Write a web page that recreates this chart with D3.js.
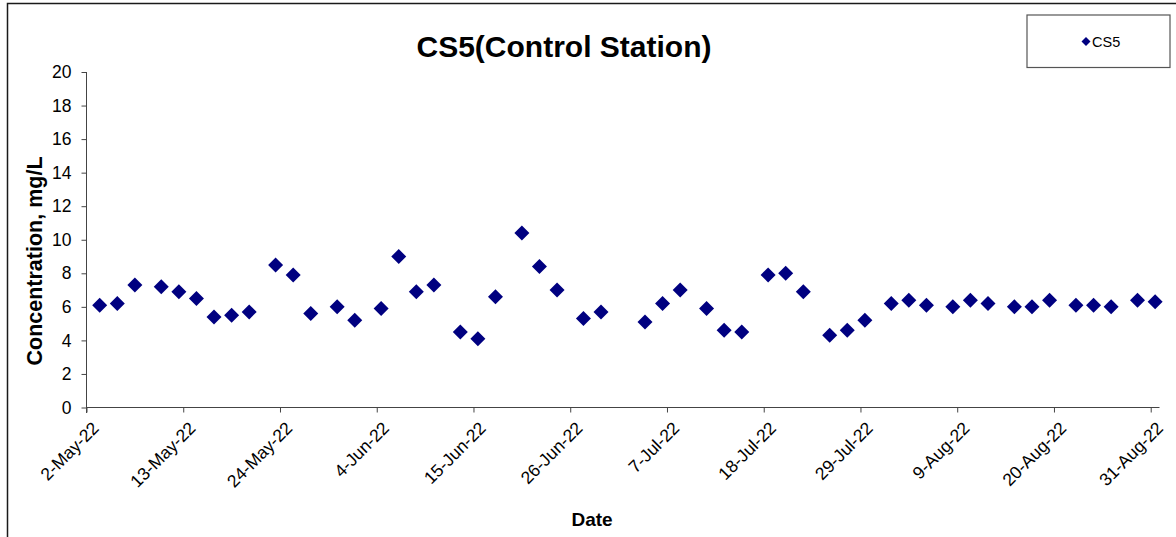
<!DOCTYPE html>
<html>
<head>
<meta charset="utf-8">
<script src="https://cdn.jsdelivr.net/npm/d3@7"></script>
<style>
  html, body { margin: 0; padding: 0; background: #fff; }
  svg { display: block; font-family: "Liberation Sans", Arial, sans-serif; }
</style>
</head>
<body>
<svg id="chart" width="1176" height="537"></svg>
<script>
const title = "CS5(Control Station)";
const seriesName = "CS5";
const xTitle = "Date";
const yTitle = "Concentration, mg/L";

const dates = [
  "2022-05-03","2022-05-05","2022-05-07","2022-05-10","2022-05-12","2022-05-14","2022-05-16","2022-05-18","2022-05-20",
  "2022-05-23","2022-05-25","2022-05-27","2022-05-30","2022-06-01","2022-06-04","2022-06-06","2022-06-08","2022-06-10",
  "2022-06-13","2022-06-15","2022-06-17","2022-06-20","2022-06-22","2022-06-24","2022-06-27","2022-06-29",
  "2022-07-04","2022-07-06","2022-07-08","2022-07-11","2022-07-13","2022-07-15","2022-07-18","2022-07-20","2022-07-22",
  "2022-07-25","2022-07-27","2022-07-29","2022-08-01","2022-08-03","2022-08-05","2022-08-08","2022-08-10","2022-08-12",
  "2022-08-15","2022-08-17","2022-08-19","2022-08-22","2022-08-24","2022-08-26","2022-08-29","2022-08-31"
];
const values = [
  6.1, 6.2, 7.3, 7.2, 6.9, 6.5, 5.4, 5.5, 5.7,
  8.5, 7.9, 5.6, 6.0, 5.2, 5.9, 9.0, 6.9, 7.3,
  4.5, 4.1, 6.6, 10.4, 8.4, 7.0, 5.3, 5.7,
  5.1, 6.2, 7.0, 5.9, 4.6, 4.5, 7.9, 8.0, 6.9,
  4.3, 4.6, 5.2, 6.2, 6.4, 6.1, 6.0, 6.4, 6.2,
  6.0, 6.0, 6.4, 6.1, 6.1, 6.0, 6.4, 6.3
];
const xTicks = ["2022-05-02","2022-05-13","2022-05-24","2022-06-04","2022-06-15","2022-06-26",
                "2022-07-07","2022-07-18","2022-07-29","2022-08-09","2022-08-20","2022-08-31"];
const xDomain = ["2022-05-02","2022-09-01"];
const yTicks = [0, 2, 4, 6, 8, 10, 12, 14, 16, 18, 20];

const parse = d3.utcParse("%Y-%m-%d");
const fmt = d3.utcFormat("%-d-%b-%y");
const data = dates.map((d, i) => ({ date: d3.utcHour.offset(parse(d), 12), value: values[i] }));

const svg = d3.select("#chart");

// outer chart border
svg.append("rect").attr("x", 7.5).attr("y", 3.5).attr("width", 1180).attr("height", 560)
  .attr("fill", "none").attr("stroke", "#1a1a1a").attr("stroke-width", 1.5);

const x = d3.scaleUtc().domain(xDomain.map(parse)).range([86.5, 1159.5]);
const y = d3.scaleLinear().domain([0, 20]).range([407.5, 72]);

// y axis
const yAxis = svg.append("g").attr("transform", "translate(86.5,0)")
  .call(d3.axisLeft(y).tickValues(yTicks).tickSize(5).tickPadding(10).tickFormat(d3.format("d")));
yAxis.selectAll("text").attr("font-size", "17.5px").attr("fill", "#000")
  .attr("font-family", "Liberation Sans, Arial, sans-serif");
yAxis.selectAll("line").attr("stroke", "#444");
yAxis.select(".domain").attr("stroke", "#444").attr("d", "M0,72V413");

// x axis
const xAxis = svg.append("g").attr("transform", "translate(0,407.5)")
  .call(d3.axisBottom(x).tickValues(xTicks.map(parse)).tickSize(5).tickFormat(fmt));
xAxis.select(".domain").attr("stroke", "#444").attr("d", "M86.5,0H1159.5");
xAxis.selectAll("line").attr("stroke", "#444");
xAxis.selectAll("text")
  .attr("font-size", "17.5px").attr("fill", "#000")
  .attr("font-family", "Liberation Sans, Arial, sans-serif")
  .attr("text-anchor", "end")
  .attr("dy", "0.35em")
  .attr("transform", "translate(3,9) rotate(-45)")
  .attr("x", -2).attr("y", 10);

// markers
const diamond = (cx, cy, r) => `M${cx},${cy - r}L${cx + r},${cy}L${cx},${cy + r}L${cx - r},${cy}Z`;
svg.append("g").selectAll("path").data(data).join("path")
  .attr("d", d => diamond(x(d.date), y(d.value), 7.5))
  .attr("fill", "#000080");

// titles
svg.append("text").attr("x", 564).attr("y", 57).attr("text-anchor", "middle")
  .attr("font-size", "30px").attr("font-weight", "bold").text(title);
svg.append("text").attr("x", 592).attr("y", 526).attr("text-anchor", "middle")
  .attr("font-size", "19px").attr("font-weight", "bold").text(xTitle);
svg.append("text").attr("transform", "translate(42,261) rotate(-90)").attr("text-anchor", "middle")
  .attr("font-size", "21.5px").attr("font-weight", "bold").text(yTitle);

// legend
svg.append("rect").attr("x", 1027).attr("y", 15).attr("width", 143).attr("height", 52.5)
  .attr("fill", "#fff").attr("stroke", "#555").attr("stroke-width", 1.2);
svg.append("path").attr("d", diamond(1086, 41.5, 4.5)).attr("fill", "#000080");
svg.append("text").attr("x", 1092).attr("y", 46.5).attr("font-size", "14.5px").text(seriesName);
</script>
</body>
</html>
